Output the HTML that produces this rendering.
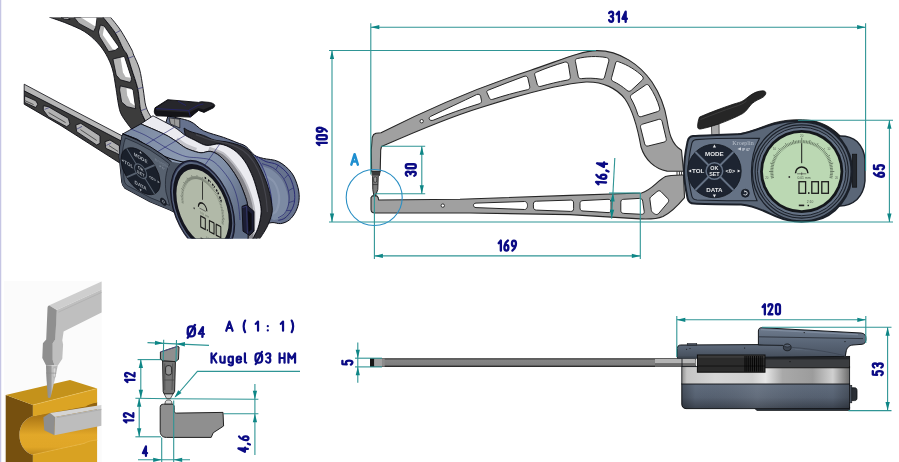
<!DOCTYPE html>
<html><head><meta charset="utf-8"><title>Caliper gauge drawing</title>
<style>
html,body{margin:0;padding:0;background:#fff;}
body{width:899px;height:462px;overflow:hidden;font-family:"Liberation Sans",sans-serif;}
svg{display:block;}
</style></head><body>
<div style="width:899px;height:462px;will-change:transform;transform:translateZ(0)"><svg width="899" height="462" viewBox="0 0 899 462">
<rect x="0" y="0" width="1.25" height="462" fill="#c6c6e4"/>
<g id="front-arms" stroke-linejoin="round">
<path d="M372.2,137.5 L373.6,134.6 L376,133.2 L381,132.8 C420,113 470,90 530,70.5 C560,60.5 580,51 597,50.6 C620,50.5 640,65 652,82 C662,97 665,108 667,120 C669,132 671,144 681.5,150.3 L683.5,171.2 L667,171.1 C655,169 645,160 641,147 C638,130 634,112 625,99 C617,88.5 603,81.5 586,82 C560,84 520,95 481,107.5 C450,117 410,134 381.5,146.6 L380.7,150 L380.2,171.6 L371.6,171.6 L371.3,150 Z" fill="#a0a0a0" stroke="#262626" stroke-width="1.1"/>
<g>
<path d="M430.6,116.4 C446,109 462,101.6 476.6,94.6 C478.6,93.8 480,94.4 480.6,96.2 L481.4,100.2 C481.8,102 481,103.2 479.2,103.8 C463,108.8 448,114 433.8,120 C431.4,121 429.6,120.4 429.2,118.8 C429,117.8 429.6,116.9 430.6,116.4 Z" fill="#fff" stroke="#262626" stroke-width="1"/>
<path d="M488.2,90.2 C500,85.4 512,80.8 524,76.4 C526,75.7 527.4,76.4 527.9,78.3 L529.7,86.2 C530.1,88 529.3,89.2 527.5,89.7 C515,92.6 503,95.9 492.8,99.3 C491,99.9 489.7,99.2 489.1,97.4 L487,92.8 C486.4,91.4 486.9,90.7 488.2,90.2 Z" fill="#fff" stroke="#262626" stroke-width="1"/>
<path d="M536.2,72.3 C545,68.5 555,65 564.5,62.2 C566.5,61.6 568,62.4 568.4,64.4 L570.3,76.4 C570.6,78.4 569.8,79.6 567.8,80 C558,81.8 549,84 541,86.3 C539,86.9 537.7,86 537.2,84.2 L534.8,75.2 C534.3,73.6 534.8,72.9 536.2,72.3 Z" fill="#fff" stroke="#262626" stroke-width="1"/>
<path d="M577.2,58.6 C586,56.4 597,55.8 606.5,57.6 C608.5,58 609.2,59.4 608.8,61.2 L604.6,77 C604.1,78.8 602.8,79.6 601,79.2 C594,78 587.5,78 581.5,78.6 C579.7,78.8 578.5,78 578.2,76.2 L575.4,61.4 C575.1,59.8 575.7,59 577.2,58.6 Z" fill="#fff" stroke="#262626" stroke-width="1"/>
<path d="M618.2,61.6 C628,65 636.5,70.5 642.2,76 C643.6,77.4 643.6,78.8 642.2,80.2 L631.2,90.4 C629.8,91.6 628.4,91.6 627,90.4 C622.5,86.5 618,83.6 613.2,81.4 C611.6,80.6 611,79.4 611.6,77.6 L615.6,63 C616.1,61.4 616.9,61.1 618.2,61.6 Z" fill="#fff" stroke="#262626" stroke-width="1"/>
<path d="M649.2,86 C654,93 657.5,100.5 659.6,108 C660.1,109.8 659.4,111 657.6,111.6 L641.4,116.6 C639.6,117.1 638.4,116.4 637.8,114.6 C636,108.5 633.6,103 631,98.6 C630,96.9 630.3,95.6 631.8,94.4 L645.6,85 C647.1,84 648.3,84.6 649.2,86 Z" fill="#fff" stroke="#262626" stroke-width="1"/>
<path d="M658.6,119.4 C660.4,118.9 661.6,119.6 662.1,121.4 L666.2,138.6 C666.6,140.4 665.9,141.6 664.1,142.1 L648.2,146 C646.4,146.4 645.2,145.7 644.7,143.9 L640.6,127.6 C640.2,125.8 640.9,124.6 642.7,124.1 Z" fill="#fff" stroke="#262626" stroke-width="1"/>
</g>
<circle cx="421.7" cy="121.2" r="1.7" fill="#fff" stroke="#262626" stroke-width="0.9"/>
<path d="M371.9,171.6 L380,171.6 L379.4,175.6 L378.2,176.2 L377.8,189.6 L375.6,195.4 L373.8,195.4 L372.8,189.6 L372.6,176.2 L372.2,175.6 Z" fill="#7c7c7c" stroke="#262626" stroke-width="1"/>
<path d="M372,171.8 L380,171.8 L379.4,175.4 L372.4,175.4 Z" fill="#3a3a3a"/>
<rect x="373.7" y="176.8" width="3" height="5.6" rx="1.4" fill="#9a9a9a" stroke="#262626" stroke-width="0.7"/>
<path d="M372.8,184.6 L377.8,184.6" stroke="#262626" stroke-width="0.7"/>
<path d="M371,197.6 L372.4,195.9 L376.8,195.9 L378.2,197.6 L378.6,200 L460,199.2 L570,195.4 L641.5,193 C652,190 657,181 665.5,176.6 C670,174.8 676,175 683.5,175 L684.5,197.6 C680,203 672,212 663,216.5 C656,219.4 648,219.3 640,218.9 L570,214.6 L470,213 L375,213 C372,213 371,211.6 371,209.5 Z" fill="#a0a0a0" stroke="#262626" stroke-width="1.1"/>
<circle cx="442.8" cy="205.6" r="1.7" fill="#fff" stroke="#262626" stroke-width="0.9"/>
<path d="M476,203.1 L524.5,201.5 C528.5,201.4 528.5,209.6 524.5,209.5 L476,207.6 C472.6,207.4 472.6,203.2 476,203.1 Z" fill="#fff" stroke="#262626" stroke-width="1"/>
<path d="M536.5,201.2 L570.5,200.1 C572.6,200 573.6,201 573.6,203 L573.6,208.6 C573.6,210.6 572.6,211.5 570.5,211.4 L536.5,210.1 C534.4,210 533.4,209 533.4,207 L533.4,204.2 C533.4,202.2 534.4,201.3 536.5,201.2 Z" fill="#fff" stroke="#262626" stroke-width="1"/>
<path d="M583,200.6 L608,199.3 C610,199.2 611,200.2 611,202.2 L611,209.8 C611,211.8 610,212.7 608,212.6 L583,211 C581,210.9 580,209.9 580,207.9 L580,203.6 C580,201.6 581,200.7 583,200.6 Z" fill="#fff" stroke="#262626" stroke-width="1"/>
<path d="M623.8,199.3 L639.4,198.4 C641.4,198.3 642.4,199.2 642.7,201.2 L644.2,211.4 C644.5,213.4 643.5,214.4 641.5,214.3 L623.8,213.4 C621.8,213.3 620.8,212.3 620.8,210.3 L620.8,202.2 C620.8,200.2 621.8,199.4 623.8,199.3 Z" fill="#fff" stroke="#262626" stroke-width="1"/>
<path d="M650.6,197 L657,191.6 C658.5,190.4 659.8,190.4 661.2,191.8 L667.6,198.4 C669,199.8 669,201.2 667.8,202.7 L658.8,213.3 C657.5,214.7 656.2,214.9 654.6,213.9 L653.6,213.2 C652,212.2 651.4,211.2 651.2,209.4 L649.9,199.4 C649.7,198.2 649.9,197.6 650.6,197 Z" fill="#fff" stroke="#262626" stroke-width="1"/>
<path d="M677,171.4 L677,175 M679.4,171.4 L679.4,175 M681.6,171.4 L681.6,175" stroke="#262626" stroke-width="0.9"/>
</g>
<g id="device">
<polygon points="711.4,125.6 719,123.6 719.2,135.5 711.8,135.8" fill="#a8a8a8" stroke="#333" stroke-width="0.8"/>
<path d="M699.6,117 C710,112.5 722,108 733,104.3 C738,102.8 741,102.2 744,100.2 C748,97.2 751,94.4 755,92.6 C758,91.4 761,90.6 763.8,90.9 C765.6,91.2 766.2,92.6 765.6,94.2 C764.6,96.4 762.6,97.6 760,98.8 C756,100.6 753,102.4 750.6,105 C748,108.2 746,111.6 742.6,113.6 C735,117.6 727,121 718.6,124 C712,126.2 706,128 700.6,129 C698.6,129.3 697.6,128.4 697.6,126.6 C697.7,123 698.4,119.6 699.6,117 Z" fill="#262626" stroke="#111" stroke-width="0.8"/>
<path d="M700.5,119.5 C712,115 724,110.2 735,106.6 C740,105 743.5,103.6 746.5,101" fill="none" stroke="#3d3d3d" stroke-width="0.9"/>
<path d="M838,136 C845,135.6 852,137 857,141.5 C862,146.5 864.6,153 865,160 L865,181 C864.4,188 862,194.5 857,199.5 C852,204 845,206.4 838,206 Z" fill="#5a6677" stroke="#1b2029" stroke-width="1.4"/>
<rect x="852.4" y="154.2" width="4.3" height="33" fill="#22262c" stroke="#111" stroke-width="0.7"/>
<path d="M848.6,153.5 L848.6,188.5" stroke="#4a5565" stroke-width="1"/>
<path d="M738,134.2 C752,131.6 762,126.4 774,122.8 C786,119.6 800,118.8 812,120.6 C822,122.4 832,127.4 840,135.6 L837,138.6 C827,128.6 813,123 800,123.2 C786,123.4 772,128 760,135.4 Z" fill="#1a1c20" stroke="#111" stroke-width="0.8"/>
<path d="M693,136 C705,135.2 725,134.6 741,134 C752,132 762,127.6 773,124.4 C786,121 802,120.4 814,122.6 C836,127.6 852,148 852.2,171.5 C852,195 836,216.4 814,220.6 C802,222.6 788,221.6 776,216.4 C766,212 756,206 741,204.6 C725,204.4 705,204.2 694,203.6 C690.4,203.4 688.4,201.8 687.6,198.4 C685.6,189 684,180 684,171 C684,162 685.6,151 687.6,141.4 C688.4,138 690,136.2 693,136 Z" fill="#5a6677" stroke="#1b2029" stroke-width="2"/>
<path d="M696,139.6 C712,138.4 740,138 759.4,138.4 C754,148 751.4,160 751.4,171.5 C751.4,183 753,192 757,200.6 C735,200.8 712,200.6 697,200 C694,199.8 692.4,198.6 691.8,196 C690,188 688.2,179 688.2,171 C688.2,162 690,151 691.8,143.4 C692.4,141 693.6,139.8 696,139.6 Z" fill="#657285" stroke="#1b2029" stroke-width="1.1"/>
<circle cx="801.7" cy="171.5" r="49.4" fill="#5a6677" stroke="#1b2029" stroke-width="1.3"/>
<circle cx="801.7" cy="171.5" r="46.6" fill="none" stroke="#1b2029" stroke-width="1.1"/>
<circle cx="801.7" cy="171.5" r="44.2" fill="#657285" stroke="#1b2029" stroke-width="1"/>
<circle cx="801.7" cy="171.5" r="41.6" fill="#14171b"/>
<circle cx="801.7" cy="171.5" r="38.8" fill="#bbd8b3"/>
<path d="M773.92,177.40L770.99,178.03M773.65,175.94L770.69,176.41M773.46,174.47L770.47,174.78M773.34,172.99L770.34,173.14M773.30,171.50L769.10,171.50M773.34,170.01L770.34,169.86M773.46,168.53L770.47,168.22M773.65,167.06L770.69,166.59M773.92,165.60L770.99,164.97M774.27,164.15L770.21,163.06M774.69,162.72L771.84,161.80M775.19,161.32L772.39,160.25M775.76,159.95L773.01,158.73M776.40,158.61L773.72,157.24M777.10,157.30L773.47,155.20M777.88,156.03L775.37,154.40M778.72,154.81L776.30,153.04M779.63,153.63L777.30,151.74M780.59,152.50L778.37,150.49M781.62,151.42L778.65,148.45M782.70,150.39L780.69,148.17M783.83,149.43L781.94,147.10M785.01,148.52L783.24,146.10M786.23,147.68L784.60,145.17M787.50,146.90L785.40,143.27M788.81,146.20L787.44,143.52M790.15,145.56L788.93,142.81M791.52,144.99L790.45,142.19M792.92,144.49L792.00,141.64M794.35,144.07L793.26,140.01M795.80,143.72L795.17,140.79M797.26,143.45L796.79,140.49M798.73,143.26L798.42,140.27M800.21,143.14L800.06,140.14M801.70,143.90L801.70,137.70M803.19,143.14L803.34,140.14M804.67,143.26L804.98,140.27M806.14,143.45L806.61,140.49M807.60,143.72L808.23,140.79M809.05,144.07L810.14,140.01M810.48,144.49L811.40,141.64M811.88,144.99L812.95,142.19M813.25,145.56L814.47,142.81M814.59,146.20L815.96,143.52M815.90,146.90L818.00,143.27M817.17,147.68L818.80,145.17M818.39,148.52L820.16,146.10M819.57,149.43L821.46,147.10M820.70,150.39L822.71,148.17M821.78,151.42L824.75,148.45M822.81,152.50L825.03,150.49M823.77,153.63L826.10,151.74M824.68,154.81L827.10,153.04M825.52,156.03L828.03,154.40M826.30,157.30L829.93,155.20M827.00,158.61L829.68,157.24M827.64,159.95L830.39,158.73M828.21,161.32L831.01,160.25M828.71,162.72L831.56,161.80M829.13,164.15L833.19,163.06M829.48,165.60L832.41,164.97M829.75,167.06L832.71,166.59M829.94,168.53L832.93,168.22M830.06,170.01L833.06,169.86M830.10,171.50L834.30,171.50M830.06,172.99L833.06,173.14M829.94,174.47L832.93,174.78M829.75,175.94L832.71,176.41M829.48,177.40L832.41,178.03" stroke="#354135" stroke-width="0.6" fill="none"/>
<text x="766.8" y="178.8" font-size="2.9" text-anchor="middle" font-family="Liberation Sans, sans-serif" fill="#5a665a">20</text>
<text x="774.6" y="149.9" font-size="2.9" text-anchor="middle" font-family="Liberation Sans, sans-serif" fill="#5a665a">10</text>
<text x="801.7" y="137.3" font-size="2.9" text-anchor="middle" font-family="Liberation Sans, sans-serif" fill="#5a665a">20</text>
<text x="828.8" y="149.9" font-size="2.9" text-anchor="middle" font-family="Liberation Sans, sans-serif" fill="#5a665a">10</text>
<text x="836.6" y="178.8" font-size="2.9" text-anchor="middle" font-family="Liberation Sans, sans-serif" fill="#5a665a">20</text>
<line x1="801.7" y1="143.4" x2="801.7" y2="163.2" stroke="#1a1a1a" stroke-width="1"/>
<path d="M795.5,173.2 A6.2,6.2 0 0 1 807.9000000000001,173.2" fill="none" stroke="#1a1a1a" stroke-width="1.5"/>
<path d="M797.1,173.8 L806.3000000000001,173.8 M801.7,172.4 L801.7,175.2" stroke="#333" stroke-width="0.6"/>
<circle cx="789.3" cy="177" r="0.9" fill="#333"/>
<text x="797.4" y="179" font-size="3.4" font-family="Liberation Sans, sans-serif" fill="#4a564a">0.01 mm</text>
<rect x="799" y="181.7" width="6.6" height="11.6" fill="none" stroke="#1c1c1c" stroke-width="1.3"/>
<rect x="811.8" y="181.7" width="6.6" height="11.6" fill="none" stroke="#1c1c1c" stroke-width="1.3"/>
<rect x="821.8" y="181.7" width="6.6" height="11.6" fill="none" stroke="#1c1c1c" stroke-width="1.3"/>
<rect x="808" y="192.2" width="1.5" height="1.7" fill="#1c1c1c"/>
<text x="806.8" y="202.6" font-size="3.3" font-family="Liberation Sans, sans-serif" fill="#4a564a">2:10</text>
<rect x="798.8" y="204.6" width="5.4" height="1.6" fill="#222"/><rect x="807.6" y="204.8" width="1.4" height="1.4" fill="#222"/>
<circle cx="714.4" cy="171" r="26.8" fill="#1d2431" stroke="#12161d" stroke-width="0.8"/>
<path d="M695.4,152.0L733.4,190.0M695.4,190.0L733.4,152.0" stroke="#657285" stroke-width="1.8"/>
<circle cx="714.4" cy="171" r="8.3" fill="#1d2431" stroke="#657285" stroke-width="1.5"/>
<text x="714.4" y="155.6" font-size="6.2" font-weight="bold" text-anchor="middle" font-family="Liberation Sans, sans-serif" fill="#e6e8ea">MODE</text>
<text x="714.4" y="191.8" font-size="6.2" font-weight="bold" text-anchor="middle" font-family="Liberation Sans, sans-serif" fill="#e6e8ea">DATA</text>
<text x="698.2" y="173.4" font-size="6.2" font-weight="bold" text-anchor="middle" font-family="Liberation Sans, sans-serif" fill="#e6e8ea">TOL</text>
<text x="730.4" y="173.2" font-size="5.6" font-weight="bold" text-anchor="middle" font-family="Liberation Sans, sans-serif" fill="#e6e8ea">&lt;0&gt;</text>
<text x="714.4" y="169.6" font-size="5.4" font-weight="bold" text-anchor="middle" font-family="Liberation Sans, sans-serif" fill="#e6e8ea">OK</text>
<text x="714.4" y="175.8" font-size="5.4" font-weight="bold" text-anchor="middle" font-family="Liberation Sans, sans-serif" fill="#e6e8ea">SET</text>
<polygon points="714.4,144.6 712.8,147.6 716.0,147.6" fill="#e6e8ea"/>
<polygon points="714.4,197.6 712.8,194.6 716.0,194.6" fill="#e6e8ea"/>
<polygon points="688.4,171 691.2,169.4 691.2,172.6" fill="#e6e8ea"/>
<polygon points="740.4,171 737.6,169.4 737.6,172.6" fill="#e6e8ea"/>
<circle cx="745.3" cy="193.2" r="4" fill="#1d2431" stroke="#12161d" stroke-width="0.7"/>
<path d="M743.6,194 A1.9,1.9 0 1 0 745.3,191.3" fill="none" stroke="#e2e4e8" stroke-width="0.9"/>
<polygon points="744.2,190.2 746.2,191.4 744.4,192.6" fill="#e2e4e8"/>
<text x="743" y="145.4" font-size="6" text-anchor="middle" font-family="Liberation Serif, serif" fill="#b9c0cb">Kroeplin</text>
<text x="746" y="150.6" font-size="3.4" font-weight="bold" text-anchor="middle" font-family="Liberation Sans, sans-serif" fill="#c9cfd8">IP 67</text>
<polygon points="737.4,149 741,147.2 741,150.6" fill="#c9cfd8"/>
</g>
<g id="front-dims">
<line x1="370.8" y1="23.3" x2="370.8" y2="174.5" stroke="#2f9595" stroke-width="1.1"/>
<line x1="865.6" y1="23.3" x2="865.6" y2="170.8" stroke="#2f9595" stroke-width="1.1"/>
<line x1="370.8" y1="27.2" x2="865.6" y2="27.2" stroke="#2f9595" stroke-width="1.1"/>
<polygon points="370.8,27.2 379.3,25.1 379.3,29.3" fill="#0e8686"/>
<polygon points="865.6,27.2 857.1,29.3 857.1,25.1" fill="#0e8686"/>
<g transform="translate(618,16.7) scale(1.0000,-1.0) translate(0,-5)" fill="none" stroke="#0b0b85" stroke-width="2.35" stroke-linecap="round" stroke-linejoin="round"><path transform="translate(-8.85,0)" d="M0,8.6 C0.4,9.5 1.1,10 2,10 C3.2,10 4,9.2 4,7.8 C4,6.4 3.2,5.4 1.6,5.4 C3.2,5.4 4,4.3 4,2.7 C4,1 3.2,0 2,0 C1.1,0 0.4,0.5 0,1.5"/><path transform="translate(-1.30,0)" d="M0,7.4 L2.2,10 L2.2,0"/><path transform="translate(4.45,0)" d="M3.2,0 L3.2,10 L0,3 L4.4,3"/></g>
<line x1="329" y1="50.5" x2="596" y2="50.5" stroke="#2f9595" stroke-width="1.1"/>
<line x1="329" y1="222" x2="893" y2="222" stroke="#2f9595" stroke-width="1.1"/>
<line x1="332" y1="50.5" x2="332" y2="222" stroke="#2f9595" stroke-width="1.1"/>
<polygon points="332.0,50.5 334.1,59.0 329.9,59.0" fill="#0e8686"/>
<polygon points="332.0,222.0 329.9,213.5 334.1,213.5" fill="#0e8686"/>
<g transform="translate(321.8,136.4) rotate(-90) scale(1.0000,-1.0) translate(0,-5)" fill="none" stroke="#0b0b85" stroke-width="2.35" stroke-linecap="round" stroke-linejoin="round"><path transform="translate(-8.65,0)" d="M0,7.4 L2.2,10 L2.2,0"/><path transform="translate(-2.90,0)" d="M0,2 L0,8 C0,9.3 0.8,10 2,10 C3.2,10 4,9.3 4,8 L4,2 C4,0.7 3.2,0 2,0 C0.8,0 0,0.7 0,2 Z"/><path transform="translate(4.65,0)" d="M 0.50,0.00 C 1.80,0.80 3.10,2.80 3.70,5.00 C 3.90,5.80 4.00,6.50 4.00,7.20 C 4.00,9.00 3.20,10.00 2.00,10.00 C 0.80,10.00 0.00,9.00 0.00,7.10 C 0.00,5.30 0.80,4.30 2.00,4.30 C 2.80,4.30 3.40,4.70 3.80,5.50"/></g>
<line x1="381" y1="146.3" x2="425.2" y2="146.3" stroke="#2f9595" stroke-width="1.1"/>
<line x1="375" y1="193.7" x2="425.2" y2="193.7" stroke="#2f9595" stroke-width="1.1"/>
<line x1="421.8" y1="146.3" x2="421.8" y2="193.7" stroke="#2f9595" stroke-width="1.1"/>
<polygon points="421.8,146.3 423.9,154.8 419.7,154.8" fill="#0e8686"/>
<polygon points="421.8,193.7 419.7,185.2 423.9,185.2" fill="#0e8686"/>
<g transform="translate(410.8,170) rotate(-90) scale(1.0000,-1.0) translate(0,-5)" fill="none" stroke="#0b0b85" stroke-width="2.35" stroke-linecap="round" stroke-linejoin="round"><path transform="translate(-5.78,0)" d="M0,8.6 C0.4,9.5 1.1,10 2,10 C3.2,10 4,9.2 4,7.8 C4,6.4 3.2,5.4 1.6,5.4 C3.2,5.4 4,4.3 4,2.7 C4,1 3.2,0 2,0 C1.1,0 0.4,0.5 0,1.5"/><path transform="translate(1.77,0)" d="M0,2 L0,8 C0,9.3 0.8,10 2,10 C3.2,10 4,9.3 4,8 L4,2 C4,0.7 3.2,0 2,0 C0.8,0 0,0.7 0,2 Z"/></g>
<line x1="374.4" y1="194" x2="374.4" y2="259" stroke="#2f9595" stroke-width="1.1"/>
<line x1="640.3" y1="193" x2="640.3" y2="259" stroke="#2f9595" stroke-width="1.1"/>
<line x1="374.4" y1="255.9" x2="640.3" y2="255.9" stroke="#2f9595" stroke-width="1.1"/>
<polygon points="374.4,255.9 382.9,253.8 382.9,258.1" fill="#0e8686"/>
<polygon points="640.3,255.9 631.8,258.1 631.8,253.8" fill="#0e8686"/>
<g transform="translate(507.3,245.6) scale(1.0000,-1.0) translate(0,-5)" fill="none" stroke="#0b0b85" stroke-width="2.35" stroke-linecap="round" stroke-linejoin="round"><path transform="translate(-8.65,0)" d="M0,7.4 L2.2,10 L2.2,0"/><path transform="translate(-2.90,0)" d="M3.5,10 C2.2,9.2 0.9,7.2 0.3,5 C0.1,4.2 0,3.5 0,2.8 C0,1 0.8,0 2,0 C3.2,0 4,1 4,2.9 C4,4.7 3.2,5.7 2,5.7 C1.2,5.7 0.6,5.3 0.2,4.5"/><path transform="translate(4.65,0)" d="M 0.50,0.00 C 1.80,0.80 3.10,2.80 3.70,5.00 C 3.90,5.80 4.00,6.50 4.00,7.20 C 4.00,9.00 3.20,10.00 2.00,10.00 C 0.80,10.00 0.00,9.00 0.00,7.10 C 0.00,5.30 0.80,4.30 2.00,4.30 C 2.80,4.30 3.40,4.70 3.80,5.50"/></g>
<line x1="609" y1="193" x2="640.3" y2="193" stroke="#2f9595" stroke-width="1.1"/>
<line x1="614.8" y1="158" x2="611.6" y2="218.6" stroke="#2f9595" stroke-width="1.1"/>
<polygon points="613.0,193.0 614.7,201.6 610.4,201.4" fill="#0e8686"/>
<polygon points="611.6,218.2 609.9,209.6 614.2,209.8" fill="#0e8686"/>
<g transform="translate(601.5,173.4) rotate(-87) scale(1.0000,-1.0) translate(0,-5)" fill="none" stroke="#0b0b85" stroke-width="2.35" stroke-linecap="round" stroke-linejoin="round"><path transform="translate(-11.02,0)" d="M0,7.4 L2.2,10 L2.2,0"/><path transform="translate(-5.27,0)" d="M3.5,10 C2.2,9.2 0.9,7.2 0.3,5 C0.1,4.2 0,3.5 0,2.8 C0,1 0.8,0 2,0 C3.2,0 4,1 4,2.9 C4,4.7 3.2,5.7 2,5.7 C1.2,5.7 0.6,5.3 0.2,4.5"/><path transform="translate(2.28,0)" d="M0.8,0.3 L0,-1.9"/><path transform="translate(6.62,0)" d="M3.2,0 L3.2,10 L0,3 L4.4,3"/></g>
<line x1="798" y1="120.2" x2="893" y2="120.2" stroke="#2f9595" stroke-width="1.1"/>
<line x1="889.4" y1="120.2" x2="889.4" y2="222" stroke="#2f9595" stroke-width="1.1"/>
<polygon points="889.4,120.2 891.5,128.7 887.2,128.7" fill="#0e8686"/>
<polygon points="889.4,222.0 887.2,213.5 891.5,213.5" fill="#0e8686"/>
<g transform="translate(879,171) rotate(-90) scale(1.0000,-1.0) translate(0,-5)" fill="none" stroke="#0b0b85" stroke-width="2.35" stroke-linecap="round" stroke-linejoin="round"><path transform="translate(-5.78,0)" d="M3.5,10 C2.2,9.2 0.9,7.2 0.3,5 C0.1,4.2 0,3.5 0,2.8 C0,1 0.8,0 2,0 C3.2,0 4,1 4,2.9 C4,4.7 3.2,5.7 2,5.7 C1.2,5.7 0.6,5.3 0.2,4.5"/><path transform="translate(1.77,0)" d="M3.8,10 L0.5,10 L0.2,5.7 C0.7,6.2 1.3,6.5 2.1,6.5 C3.3,6.5 4,5.3 4,3.3 C4,1.2 3.2,0 2,0 C1.1,0 0.4,0.5 0,1.5"/></g>
<circle cx="374.2" cy="197.5" r="28" fill="none" stroke="#2a8fc4" stroke-width="1.1"/>
<g transform="translate(354.6,159.4) scale(1.0500,-1.05) translate(0,-5)" fill="none" stroke="#1f8fd0" stroke-width="2.35" stroke-linecap="round" stroke-linejoin="round"><path transform="translate(-3.10,0)" d="M0,0 L3.1,10 L6.2,0 M1,3 L5.2,3"/></g>
</g>
<defs>
<linearGradient id="gSilver" x1="0" x2="1" y1="0" y2="0"><stop offset="0" stop-color="#8f8f8f"/><stop offset="0.03" stop-color="#c4c4c4"/><stop offset="0.2" stop-color="#d6d6d6"/><stop offset="0.42" stop-color="#cfcfcf"/><stop offset="0.5" stop-color="#e6e6e6"/><stop offset="0.6" stop-color="#a9a9a9"/><stop offset="0.78" stop-color="#9c9c9c"/><stop offset="0.9" stop-color="#d0d0d0"/><stop offset="0.97" stop-color="#8a8a8a"/><stop offset="1" stop-color="#6a6a6a"/></linearGradient>
<linearGradient id="gLower" x1="0" x2="0" y1="0" y2="1"><stop offset="0" stop-color="#616d7e"/><stop offset="0.55" stop-color="#566171"/><stop offset="1" stop-color="#3a424e"/></linearGradient>
<linearGradient id="gLowerH" x1="0" x2="1" y1="0" y2="0"><stop offset="0" stop-color="#000" stop-opacity="0.25"/><stop offset="0.08" stop-color="#000" stop-opacity="0"/><stop offset="0.45" stop-color="#fff" stop-opacity="0.08"/><stop offset="0.9" stop-color="#000" stop-opacity="0"/><stop offset="1" stop-color="#000" stop-opacity="0.22"/></linearGradient>
<linearGradient id="gUpper" x1="0" x2="0" y1="0" y2="1"><stop offset="0" stop-color="#5e6a7b"/><stop offset="1" stop-color="#444d5a"/></linearGradient>
<linearGradient id="gCap" x1="0" x2="0" y1="0" y2="1"><stop offset="0" stop-color="#6f7c8e"/><stop offset="0.5" stop-color="#5a6677"/><stop offset="1" stop-color="#4a5463"/></linearGradient>
<linearGradient id="gBar" x1="0" x2="0" y1="0" y2="1"><stop offset="0" stop-color="#2e2e2e"/><stop offset="0.13" stop-color="#555"/><stop offset="0.2" stop-color="#858585"/><stop offset="0.78" stop-color="#7e7e7e"/><stop offset="0.87" stop-color="#444"/><stop offset="1" stop-color="#1c1c1c"/></linearGradient>
</defs>
<g id="side">
<rect x="370" y="358.2" width="326" height="8.8" fill="url(#gBar)"/>
<rect x="370" y="358.2" width="4.2" height="8.8" fill="#161616"/>
<rect x="374.2" y="358.6" width="8" height="8" fill="#a2a2a2"/>
<rect x="382.2" y="358.6" width="2.5" height="8" fill="#8c8c8c"/>
<rect x="655" y="359" width="40" height="4.2" fill="#b4b4b4"/>
<rect x="655" y="363.2" width="40" height="3.6" fill="#6c6c6c"/>
<path d="M753,407 L849.6,407 L849.6,410.4 L757,410.4 Z" fill="#2f353e" stroke="#14171b" stroke-width="0.8"/>
<path d="M681.8,383.6 L849.6,383.6 L849.6,408.6 L686,408.6 C683,408.4 681.8,406.6 681.8,404 Z" fill="url(#gLower)" stroke="#14171b" stroke-width="1"/>
<path d="M681.8,383.6 L849.6,383.6 L849.6,408.6 L686,408.6 C683,408.4 681.8,406.6 681.8,404 Z" fill="url(#gLowerH)"/>
<rect x="681.8" y="366.6" width="167.8" height="17.4" fill="url(#gSilver)" stroke="#14171b" stroke-width="0.9"/>
<rect x="764" y="356.4" width="85.6" height="11.4" fill="#3b3d40" stroke="#111" stroke-width="0.9"/>
<rect x="764" y="356.4" width="85.6" height="3" fill="#222427"/>
<path d="M677.4,348.4 C677.4,346.2 678.6,345 680.8,345 L760,344.6 L846,345.2 L845.4,356.4 L677.4,358 Z" fill="url(#gUpper)" stroke="#14171b" stroke-width="1"/>
<path d="M677.4,358 L682,358 L682,367" fill="none" stroke="#14171b" stroke-width="0.9"/>
<rect x="677.6" y="356.6" width="20" height="2" fill="#3c444f"/>
<rect x="687.2" y="343.5" width="9.6" height="1.6" fill="#4a5361" stroke="#14171b" stroke-width="0.5"/>
<path d="M795,349 C812,350 830,352.4 845,355.6" fill="none" stroke="#6b7889" stroke-width="1.2" opacity="0.6"/>
<path d="M758.4,344.6 L758.4,331 C758.4,328.8 759.6,327.6 761.8,327.7 L861,333 C864.4,333.4 866,335 866,338.6 C866,342 864.8,344 862,344.3 L853,345 C848.6,345.4 846.8,348 846,352 L845.4,356.2 L820,352.6 C800,349 780,346.4 764,345 Z" fill="url(#gCap)"/>
<path d="M758.4,345 L758.4,331 C758.4,328.8 759.6,327.6 761.8,327.7 L861,333 C864.4,333.4 866,335 866,338.6 C866,342 864.8,344 862,344.3 L853,345 C848.6,345.4 846.8,348 846,352 L845.4,356.2" fill="none" stroke="#14171b" stroke-width="1"/>
<path d="M758.8,336.8 L863,338.6" fill="none" stroke="#2b313a" stroke-width="0.9"/>
<path d="M761,329.6 L858,334.6" fill="none" stroke="#8996a8" stroke-width="1.1" opacity="0.7"/>
<path d="M758.4,345 L783,345.4" fill="none" stroke="#14171b" stroke-width="0.9"/>
<path d="M792,347.4 C810,348.6 830,352 845.6,356" fill="none" stroke="#39414d" stroke-width="0.8" opacity="0.8"/>
<circle cx="804.2" cy="332.6" r="0.6" fill="#111"/><circle cx="845" cy="341.6" r="0.6" fill="#111"/><circle cx="790" cy="361.6" r="0.6" fill="#111"/><circle cx="686.6" cy="349.2" r="0.5" fill="#111"/><circle cx="744.6" cy="348" r="0.6" fill="#111"/><circle cx="690" cy="348.4" r="0.5" fill="#111"/>
<path d="M783.4,347.4 C783.4,345.4 784.6,344 787.2,344 C789.8,344 791.2,345.4 791.2,347.4 C791.2,349.6 789.6,350.8 787.2,350.8 C784.8,350.8 783.4,349.6 783.4,347.4 Z" fill="#3c4450" stroke="#14171b" stroke-width="0.8"/>
<ellipse cx="787.3" cy="345.6" rx="3.2" ry="1.4" fill="#566171" stroke="#14171b" stroke-width="0.5"/>
<rect x="697.4" y="355" width="67.6" height="17.2" fill="#2b2b2b" stroke="#0c0c0c" stroke-width="1"/>
<line x1="697.4" y1="366" x2="765" y2="366" stroke="#0c0c0c" stroke-width="0.8"/>
<rect x="697.9" y="355.6" width="66.6" height="2.2" fill="#3b3b3b"/>
<path d="M745.0,356 L745.0,371.6M746.9,356 L746.9,371.6M748.8,356 L748.8,371.6M750.7,356 L750.7,371.6M752.6,356 L752.6,371.6M754.5,356 L754.5,371.6M756.4,356 L756.4,371.6M758.3,356 L758.3,371.6M760.2,356 L760.2,371.6M762.1,356 L762.1,371.6" stroke="#000" stroke-width="0.9"/>
<path d="M849.8,387.8 L854.6,387.8 C856.4,387.8 857,389 857,390.6 L857,397.8 C857,399.6 856.4,400.6 854.6,400.6 L849.8,400.6 Z" fill="#2a2e35" stroke="#0e1013" stroke-width="0.8"/>
<rect x="849.6" y="385.4" width="2.2" height="17.4" fill="#48505c" stroke="#14171b" stroke-width="0.6"/>
<line x1="676.8" y1="316" x2="676.8" y2="357" stroke="#2f9595" stroke-width="1.1"/>
<line x1="865.8" y1="316" x2="865.8" y2="343" stroke="#2f9595" stroke-width="1.1"/>
<line x1="676.8" y1="319.8" x2="865.8" y2="319.8" stroke="#2f9595" stroke-width="1.1"/>
<polygon points="676.8,319.8 685.3,317.7 685.3,321.9" fill="#0e8686"/>
<polygon points="865.8,319.8 857.3,321.9 857.3,317.7" fill="#0e8686"/>
<g transform="translate(771.3,309.3) scale(1.0000,-1.0) translate(0,-5)" fill="none" stroke="#0b0b85" stroke-width="2.35" stroke-linecap="round" stroke-linejoin="round"><path transform="translate(-8.65,0)" d="M0,7.4 L2.2,10 L2.2,0"/><path transform="translate(-2.90,0)" d="M0,8 C0,9.3 0.8,10 2,10 C3.2,10 4,9.3 4,8 C4,6.4 3,5.2 0,0 L4,0"/><path transform="translate(4.65,0)" d="M0,2 L0,8 C0,9.3 0.8,10 2,10 C3.2,10 4,9.3 4,8 L4,2 C4,0.7 3.2,0 2,0 C0.8,0 0,0.7 0,2 Z"/></g>
<line x1="762" y1="327.3" x2="891.5" y2="327.3" stroke="#2f9595" stroke-width="1.1"/>
<line x1="848.5" y1="410.6" x2="891.5" y2="410.6" stroke="#2f9595" stroke-width="1.1"/>
<line x1="887.6" y1="327.3" x2="887.6" y2="410.6" stroke="#2f9595" stroke-width="1.1"/>
<polygon points="887.6,327.3 889.8,335.8 885.5,335.8" fill="#0e8686"/>
<polygon points="887.6,410.6 885.5,402.1 889.8,402.1" fill="#0e8686"/>
<g transform="translate(877.8,369.3) rotate(-90) scale(1.0000,-1.0) translate(0,-5)" fill="none" stroke="#0b0b85" stroke-width="2.35" stroke-linecap="round" stroke-linejoin="round"><path transform="translate(-5.78,0)" d="M3.8,10 L0.5,10 L0.2,5.7 C0.7,6.2 1.3,6.5 2.1,6.5 C3.3,6.5 4,5.3 4,3.3 C4,1.2 3.2,0 2,0 C1.1,0 0.4,0.5 0,1.5"/><path transform="translate(1.77,0)" d="M0,8.6 C0.4,9.5 1.1,10 2,10 C3.2,10 4,9.2 4,7.8 C4,6.4 3.2,5.4 1.6,5.4 C3.2,5.4 4,4.3 4,2.7 C4,1 3.2,0 2,0 C1.1,0 0.4,0.5 0,1.5"/></g>
<line x1="355" y1="358.2" x2="382" y2="358.2" stroke="#2f9595" stroke-width="1.1"/>
<line x1="355" y1="366.9" x2="382" y2="366.9" stroke="#2f9595" stroke-width="1.1"/>
<line x1="357.8" y1="342.6" x2="357.8" y2="382.8" stroke="#2f9595" stroke-width="1.1"/>
<polygon points="357.8,358.2 355.7,349.7 359.9,349.7" fill="#0e8686"/>
<polygon points="357.8,366.8 359.9,375.3 355.7,375.3" fill="#0e8686"/>
<g transform="translate(347.4,362.6) rotate(-90) scale(1.0000,-1.0) translate(0,-5)" fill="none" stroke="#0b0b85" stroke-width="2.35" stroke-linecap="round" stroke-linejoin="round"><path transform="translate(-2.00,0)" d="M3.8,10 L0.5,10 L0.2,5.7 C0.7,6.2 1.3,6.5 2.1,6.5 C3.3,6.5 4,5.3 4,3.3 C4,1.2 3.2,0 2,0 C1.1,0 0.4,0.5 0,1.5"/></g>
</g>
<g id="detail">
<line x1="147.5" y1="342.6" x2="209" y2="345.4" stroke="#2f9595" stroke-width="1.1"/>
<polygon points="163.5,343.3 154.9,345.1 155.1,340.8" fill="#0e8686"/>
<polygon points="176.4,343.9 185.0,342.1 184.8,346.4" fill="#0e8686"/>
<g transform="translate(195.9,331.6) rotate(3) scale(1.1500,-1.0) translate(0,-5)" fill="none" stroke="#0b0b85" stroke-width="2.1" stroke-linecap="round" stroke-linejoin="round"><path transform="translate(-7.07,0)" d="M0,3 L0,7 C0,8.9 1.3,10 3.1,10 C4.9,10 6.2,8.9 6.2,7 L6.2,3 C6.2,1.1 4.9,0 3.1,0 C1.3,0 0,1.1 0,3 Z M0.2,-1.7 L6,11.7"/><path transform="translate(2.68,0)" d="M3.2,0 L3.2,10 L0,3 L4.4,3"/></g>
<g transform="translate(229.4,326.15) scale(1.0340,-0.94) translate(0,-5)" fill="none" stroke="#0b0b85" stroke-width="2.15" stroke-linecap="round" stroke-linejoin="round"><path transform="translate(-3.10,0)" d="M0,0 L3.1,10 L6.2,0 M1,3 L5.2,3"/></g>
<g transform="translate(244.3,326.15) scale(1.0340,-0.94) translate(0,-5)" fill="none" stroke="#0b0b85" stroke-width="2.15" stroke-linecap="round" stroke-linejoin="round"><path transform="translate(-0.80,0)" d="M1.6,11 C-0.3,7.5 -0.3,2 1.6,-1.4"/></g>
<g transform="translate(256.9,326.15) scale(1.0340,-0.94) translate(0,-5)" fill="none" stroke="#0b0b85" stroke-width="2.15" stroke-linecap="round" stroke-linejoin="round"><path transform="translate(-1.10,0)" d="M0,7.4 L2.2,10 L2.2,0"/></g>
<g transform="translate(267.8,326.15) scale(1.0340,-0.94) translate(0,-5)" fill="none" stroke="#0b0b85" stroke-width="2.15" stroke-linecap="round" stroke-linejoin="round"><path transform="translate(-0.10,0)" d="M0.1,0.5 L0.1,0.7 M0.1,5.0 L0.1,5.2"/></g>
<g transform="translate(281.9,326.15) scale(1.0340,-0.94) translate(0,-5)" fill="none" stroke="#0b0b85" stroke-width="2.15" stroke-linecap="round" stroke-linejoin="round"><path transform="translate(-1.10,0)" d="M0,7.4 L2.2,10 L2.2,0"/></g>
<g transform="translate(292.5,326.15) scale(1.0340,-0.94) translate(0,-5)" fill="none" stroke="#0b0b85" stroke-width="2.15" stroke-linecap="round" stroke-linejoin="round"><path transform="translate(-0.80,0)" d="M0,11 C1.9,7.5 1.9,2 0,-1.4"/></g>
<g transform="translate(253.3,358) scale(1.0695,-0.93) translate(0,-5)" fill="none" stroke="#0b0b85" stroke-width="2.1" stroke-linecap="round" stroke-linejoin="round"><path transform="translate(-39.05,0)" d="M0,0 L0,10 M4.4,10 L0,3.8 M1.5,5.9 L4.6,0"/><path transform="translate(-30.80,0)" d="M0,6.6 L0,2 C0,0.7 0.8,0 2,0 C3.2,0 4,0.7 4,2 M4,6.6 L4,0"/><path transform="translate(-23.15,0)" d="M4,6.6 L4,-1.2 C4,-2.4 3.2,-3 2,-3 C1.2,-3 0.6,-2.7 0.2,-2.2 M4,2 C4,0.7 3.2,0 2,0 C0.8,0 0,0.7 0,2 L0,4.6 C0,5.9 0.8,6.6 2,6.6 C3.2,6.6 4,5.9 4,4.6"/><path transform="translate(-15.50,0)" d="M0,3.4 L4,3.4 L4,4.6 C4,5.9 3.2,6.6 2,6.6 C0.8,6.6 0,5.9 0,4.6 L0,2 C0,0.7 0.8,0 2,0 C3,0 3.6,0.4 4,1.2"/><path transform="translate(-7.85,0)" d="M0,10 L0,1.2 C0,0.4 0.5,0 1.2,0"/><path transform="translate(2.05,0)" d="M0,3 L0,7 C0,8.9 1.3,10 3.1,10 C4.9,10 6.2,8.9 6.2,7 L6.2,3 C6.2,1.1 4.9,0 3.1,0 C1.3,0 0,1.1 0,3 Z M0.2,-1.7 L6,11.7"/><path transform="translate(11.90,0)" d="M0,8.6 C0.4,9.5 1.1,10 2,10 C3.2,10 4,9.2 4,7.8 C4,6.4 3.2,5.4 1.6,5.4 C3.2,5.4 4,4.3 4,2.7 C4,1 3.2,0 2,0 C1.1,0 0.4,0.5 0,1.5"/><path transform="translate(24.60,0)" d="M0,0 L0,10 M4.6,0 L4.6,10 M0,5 L4.6,5"/><path transform="translate(32.85,0)" d="M0,0 L0,10 L3.1,4.2 L6.2,10 L6.2,0"/></g>
<path d="M300,371.4 L197.4,371.4 L175.2,397" fill="none" stroke="#2f9595" stroke-width="1.1"/>
<polygon points="174.6,397.6 178.2,390.2 181.5,393.0" fill="#0e8686"/>
<line x1="137.6" y1="359.6" x2="163" y2="359.6" stroke="#2f9595" stroke-width="1.1"/>
<line x1="135.4" y1="398.2" x2="170" y2="398.8" stroke="#2f9595" stroke-width="1.1"/>
<line x1="170" y1="398.8" x2="258.4" y2="399.2" stroke="#2f9595" stroke-width="1.1"/>
<line x1="140.8" y1="359.6" x2="140.8" y2="398.2" stroke="#2f9595" stroke-width="1.1"/>
<polygon points="140.8,359.6 143.0,368.1 138.7,368.1" fill="#0e8686"/>
<polygon points="140.8,398.2 138.7,389.7 143.0,389.7" fill="#0e8686"/>
<g transform="translate(129.8,377.4) rotate(-90) scale(0.9500,-0.95) translate(0,-5)" fill="none" stroke="#0b0b85" stroke-width="2.35" stroke-linecap="round" stroke-linejoin="round"><path transform="translate(-4.88,0)" d="M0,7.4 L2.2,10 L2.2,0"/><path transform="translate(0.88,0)" d="M0,8 C0,9.3 0.8,10 2,10 C3.2,10 4,9.3 4,8 C4,6.4 3,5.2 0,0 L4,0"/></g>
<line x1="135.4" y1="436.8" x2="161" y2="436.8" stroke="#2f9595" stroke-width="1.1"/>
<line x1="139.2" y1="398.2" x2="139.2" y2="436.8" stroke="#2f9595" stroke-width="1.1"/>
<polygon points="139.2,398.2 141.3,406.7 137.0,406.7" fill="#0e8686"/>
<polygon points="139.2,436.8 137.0,428.3 141.3,428.3" fill="#0e8686"/>
<g transform="translate(128.6,417.8) rotate(-90) scale(0.9500,-0.95) translate(0,-5)" fill="none" stroke="#0b0b85" stroke-width="2.35" stroke-linecap="round" stroke-linejoin="round"><path transform="translate(-4.88,0)" d="M0,7.4 L2.2,10 L2.2,0"/><path transform="translate(0.88,0)" d="M0,8 C0,9.3 0.8,10 2,10 C3.2,10 4,9.3 4,8 C4,6.4 3,5.2 0,0 L4,0"/></g>
<line x1="138" y1="459.8" x2="190" y2="459.8" stroke="#2f9595" stroke-width="1.1"/>
<polygon points="161.7,459.8 153.2,461.9 153.2,457.7" fill="#0e8686"/>
<polygon points="173.7,459.8 182.2,457.7 182.2,461.9" fill="#0e8686"/>
<g transform="translate(145,451.2) scale(0.9500,-0.95) translate(0,-5)" fill="none" stroke="#0b0b85" stroke-width="2.35" stroke-linecap="round" stroke-linejoin="round"><path transform="translate(-2.20,0)" d="M3.2,0 L3.2,10 L0,3 L4.4,3"/></g>
<line x1="223.6" y1="413.8" x2="258.4" y2="413.8" stroke="#2f9595" stroke-width="1.1"/>
<line x1="254.9" y1="384" x2="254.9" y2="455" stroke="#2f9595" stroke-width="1.1"/>
<polygon points="254.9,399.2 252.8,390.7 257.1,390.7" fill="#0e8686"/>
<polygon points="254.9,413.8 257.1,422.3 252.8,422.3" fill="#0e8686"/>
<g transform="translate(243.4,444) rotate(-87) scale(0.9500,-0.95) translate(0,-5)" fill="none" stroke="#0b0b85" stroke-width="2.35" stroke-linecap="round" stroke-linejoin="round"><path transform="translate(-8.15,0)" d="M3.2,0 L3.2,10 L0,3 L4.4,3"/><path transform="translate(-0.20,0)" d="M0.8,0.3 L0,-1.9"/><path transform="translate(4.15,0)" d="M3.5,10 C2.2,9.2 0.9,7.2 0.3,5 C0.1,4.2 0,3.5 0,2.8 C0,1 0.8,0 2,0 C3.2,0 4,1 4,2.9 C4,4.7 3.2,5.7 2,5.7 C1.2,5.7 0.6,5.3 0.2,4.5"/></g>
<path d="M160.4,352 L177.6,346.3 L179,347 L178.5,359.4 L175.2,361.6 L163,361 L160.4,359 Z" fill="#8f8f8f" stroke="#222" stroke-width="1"/>
<path d="M160.6,351.9 L177.6,346.4" stroke="#5a5a9a" stroke-width="0.8"/>
<path d="M162.6,361 L175.4,361.6 L174.6,391.6 L173,394 L164.2,394 L163.2,391.6 Z" fill="#757575" stroke="#222" stroke-width="1"/>
<path d="M164.4,380 L174,380 M164.8,363.4 L164.8,390 M172.8,363.4 L172,390" stroke="#3a3a3a" stroke-width="0.6" fill="none"/>
<rect x="165.6" y="365.6" width="6" height="9.4" rx="2.4" fill="#929292" stroke="#222" stroke-width="0.9"/>
<line x1="163.7" y1="339.8" x2="163.2" y2="360.6" stroke="#2f9595" stroke-width="1.1"/>
<line x1="176.5" y1="340" x2="176" y2="361.8" stroke="#2f9595" stroke-width="1.1"/>
<path d="M164.2,394 L173,394 L170.4,398.6 L166.6,398.6 Z" fill="#cfcfcf" stroke="#222" stroke-width="0.7"/>
<path d="M165.4,401.6 C166,399.4 171,399.4 171.6,401.6 L172.2,404.2 L164.8,404.2 Z" fill="#d8d8d8" stroke="#222" stroke-width="0.7"/>
<path d="M160.2,407.4 C160.2,405.2 161.4,404.2 163.4,404.2 L171.8,404.2 C173.6,404.2 174.2,405.4 174.2,407.2 L174.2,410.8 C174.2,412.4 175,413.1 176.6,413.1 L223,412.4 L223.6,426 L213.2,432.8 L211.2,437.4 L166.4,437.4 C162.4,437.4 160.2,435 160.2,431 Z" fill="#8f8f8f" stroke="#222" stroke-width="1"/>
<line x1="161.7" y1="437.6" x2="161.7" y2="462" stroke="#2f9595" stroke-width="1.1"/>
<line x1="173.7" y1="400.4" x2="173.7" y2="462" stroke="#2f9595" stroke-width="1.1"/>
</g>
<defs>
<linearGradient id="gGroove" x1="0" x2="0" y1="0" y2="1"><stop offset="0" stop-color="#8a5f11"/><stop offset="0.3" stop-color="#b17b17"/><stop offset="0.62" stop-color="#e2a829"/><stop offset="0.85" stop-color="#e0a627"/><stop offset="1" stop-color="#bd881a"/></linearGradient>
<linearGradient id="gGrooveL" x1="0" x2="1" y1="0" y2="0"><stop offset="0" stop-color="#6e4b0e" stop-opacity="0.85"/><stop offset="0.35" stop-color="#6e4b0e" stop-opacity="0"/></linearGradient>
<linearGradient id="gProbe" x1="0" x2="1" y1="0" y2="0"><stop offset="0" stop-color="#8c8c8c"/><stop offset="0.45" stop-color="#9a9a9a"/><stop offset="0.5" stop-color="#c6c6c6"/><stop offset="1" stop-color="#b4b4b4"/></linearGradient>
</defs>
<g id="inset" stroke-linejoin="round">
<rect x="4" y="281" width="97.7" height="181" fill="#fbfbfb"/>
<path d="M32.9,416 L97.1,402 L97.1,441 L32.9,455 C24,452 19.4,444 19.4,435 C19.4,426 24,419 32.9,416 Z" fill="url(#gGroove)"/>
<path d="M50,412.4 L86,404.6 C82,408 76,409.5 70,410.6 Z" fill="#8a6012"/>
<path d="M5.7,395 L32.9,404.9 L32.9,416 C24,419 19.4,426 19.4,435 C19.4,444 24,452 32.9,455 L32.9,462 L5.7,462 Z" fill="#76500f"/>
<path d="M5.7,395 L70,380 L97.1,388.6 L32.9,404.9 Z" fill="#c4921b"/>
<path d="M32.9,404.9 L97.1,388.6 L97.1,402.6 C92,403.5 88,405 85.7,406.4 L32.9,416.2 Z" fill="#dba424"/>
<path d="M32.9,454.6 L84,443.4 C88,441.4 92,440.4 97.1,440 L97.1,462 L32.9,462 Z" fill="#d9a222"/>
<path d="M33.2,454.6 L84,443.4 C88,441.4 92,440.4 97.1,440" fill="none" stroke="#f0c25a" stroke-width="0.6" opacity="0.8"/>
<path d="M33,404.9 L97,388.7" fill="none" stroke="#f0c866" stroke-width="0.6" opacity="0.8"/>
<path d="M43.4,417.2 L50,412.9 L55,416.6 L54.6,435.2 L44.3,430.2 Z" fill="#8e8e8e"/>
<path d="M50,412.9 L101.4,404.9 L101.4,408.4 L55,416.9 Z" fill="#d4d4d4"/>
<path d="M55,416.9 L101.4,408.4 L101.4,425.8 L54.6,435.2 Z" fill="#bdbdbd"/>
<path d="M57,417.6 L101.4,409.6" stroke="#a8a8a8" stroke-width="0.7" fill="none"/>
<path d="M48.8,305.4 L101.6,281.4 L101.6,289.6 L57,309.8 Z" fill="#cecece"/>
<path d="M56.6,310 L101.6,289.4 L101.6,312.6 L63.6,331.6 L62.3,340.6 L63.1,344.5 L62.3,358.8 L57.7,365.8 L54.5,365.3 L52.7,360 L52.7,343.2 L55.3,339.4 Z" fill="#bfbfbf"/>
<path d="M58.4,312.2 L101.6,292.4" stroke="#adadad" stroke-width="0.7" fill="none"/>
<path d="M47.5,308.2 C47.6,306.4 48.2,305.6 49.2,305.6 L56.8,310 L55.3,339.4 L52.7,343.2 L52.7,360 L54.5,365.3 L46,365.3 L42.3,358 L42.9,343.2 L46.2,339.4 Z" fill="#8f8f8f"/>
<path d="M46,365.3 L57.7,365.8 L55.6,376 L50.6,397.2 C50,398.2 48.4,398.2 47.8,397.2 L46.3,376 Z" fill="url(#gProbe)"/>
<path d="M53.2,368 L55.9,368 L55.2,377 L53.2,377 Z" fill="#d6d6d6" stroke="#9a9a9a" stroke-width="0.4"/>
<path d="M46.1,373 L56.3,373.2" stroke="#8c8c8c" stroke-width="0.6"/>
</g>
<defs><clipPath id="isoclip"><rect x="0" y="17.4" width="320" height="221"/></clipPath>
<linearGradient id="gIsoSilver" gradientUnits="userSpaceOnUse" x1="150" y1="118" x2="262" y2="215"><stop offset="0" stop-color="#ececf1"/><stop offset="0.36" stop-color="#e6e6ec"/><stop offset="0.46" stop-color="#b4b4ba"/><stop offset="0.55" stop-color="#eeeef2"/><stop offset="0.7" stop-color="#d0d0d4"/><stop offset="0.82" stop-color="#85858a"/><stop offset="0.92" stop-color="#cfcfd3"/><stop offset="1" stop-color="#efeff2"/></linearGradient>
<linearGradient id="gIsoTop" gradientUnits="userSpaceOnUse" x1="125" y1="130" x2="250" y2="200"><stop offset="0" stop-color="#7b89a1"/><stop offset="0.45" stop-color="#8c9ab1"/><stop offset="0.75" stop-color="#7f8ea6"/><stop offset="1" stop-color="#5f6c84"/></linearGradient>
</defs>
<g id="iso" clip-path="url(#isoclip)" stroke-linejoin="round">
<path d="M24.2,90.6 L60,109 L121,140.6 L119.4,162.8 L60,125 L24.2,104.2 Z" fill="#3b3b3b" stroke="#0b0b12" stroke-width="0.9"/>
<path d="M24.2,84.2 L60,103.3 L122,135.8 L121,140.8 L60,109.2 L24.2,90.8 Z" fill="#b7b7b7" stroke="#0b0b12" stroke-width="0.8"/>
<path d="M24.6,95.8 35.8,100.8 37.8,104.2 35.8,107.5 24.6,102.4 Z" fill="#b2b2b2" stroke="#0b0b12" stroke-width="0.8"/><path d="M24.8,100.6 33.6,104.6" fill="none" stroke="#4a4a4a" stroke-width="0.9"/>
<path d="M43.3,105.8 48.3,106.7 68.3,118.3 70,124.2 66.7,126.7 48.3,116.7 43.3,110 Z" fill="#b2b2b2" stroke="#0b0b12" stroke-width="0.8"/><path d="M48.6,112.6 65.6,122.6" fill="none" stroke="#4a4a4a" stroke-width="0.9"/>
<path d="M75.8,125 80.8,123.3 100,135.8 100,143.3 96.7,145 76.7,131.7 Z" fill="#b2b2b2" stroke="#0b0b12" stroke-width="0.8"/><path d="M80.4,129.6 96.6,140.4" fill="none" stroke="#4a4a4a" stroke-width="0.9"/>
<path d="M105,141.7 110,140 119.4,145.8 119.4,155 116.7,153.3 105.8,148.3 Z" fill="#b2b2b2" stroke="#0b0b12" stroke-width="0.8"/><path d="M109,145.6 118,151.4" fill="none" stroke="#4a4a4a" stroke-width="0.9"/>
<line x1="44.6" y1="109.4" x2="49.4" y2="107.4" stroke="#22226e" stroke-width="0.6"/>
<line x1="77" y1="129" x2="82" y2="126.4" stroke="#22226e" stroke-width="0.6"/>
<line x1="106.4" y1="145.4" x2="111.2" y2="143" stroke="#22226e" stroke-width="0.6"/>
<path d="M49.4,17.2 C52.3,18.2 61.0,21.0 66.8,23.4 C72.6,25.8 79.3,28.4 84.3,31.5 C89.3,34.6 93.4,38.4 97.0,42.2 C100.6,46.0 103.4,49.8 106.0,54.3 C108.6,58.8 110.7,63.3 112.4,69.0 C114.1,74.7 115.0,82.8 116.0,88.6 C117.0,94.4 117.5,99.6 118.4,104.0 C119.3,108.4 119.4,110.8 121.6,115.0 C123.8,119.2 129.8,126.7 131.5,129.0 L147.0,124.0 C146.4,122.8 144.5,119.5 143.4,117.0 C142.3,114.5 141.4,113.4 140.4,108.7 C139.4,104.0 139.2,95.2 137.7,88.6 C136.2,82.0 133.3,74.6 131.6,69.0 C129.8,63.4 128.6,58.4 127.2,55.0 C125.8,51.6 125.2,52.6 123.2,48.9 C121.2,45.2 118.6,38.1 115.2,32.8 C111.8,27.5 105.0,19.8 103.0,17.2 Z" fill="#3c3c3c" stroke="#0b0b12" stroke-width="0.9"/>
<path d="M103.0,17.2 C105.0,19.8 111.8,27.5 115.2,32.8 C118.6,38.1 121.2,45.2 123.2,48.9 C125.2,52.6 125.8,51.6 127.2,55.0 C128.6,58.4 129.8,63.4 131.6,69.0 C133.3,74.6 136.2,82.0 137.7,88.6 C139.2,95.2 139.4,104.0 140.4,108.7 C141.4,113.4 142.3,114.5 143.4,117.0 C144.5,119.5 146.4,122.8 147.0,124.0 L156.0,122.0 C155.2,121.2 152.8,119.7 151.1,117.0 C149.4,114.3 147.1,110.7 145.8,106.0 C144.5,101.3 144.2,94.8 143.1,88.6 C142.0,82.4 141.1,74.6 139.5,69.0 C137.9,63.4 135.1,58.4 133.7,55.0 C132.3,51.6 133.5,53.0 131.3,48.9 C129.1,44.8 124.0,35.4 120.5,30.1 C117.0,24.8 112.2,19.4 110.5,17.2 Z" fill="#b5b5b5" stroke="#0b0b12" stroke-width="0.9"/>
<path d="M74.2,17.4 96.4,17.4 95.6,27.6 93.6,31.4 78.9,23.4 Z" fill="#b4b4b4" stroke="#0b0b12" stroke-width="0.8"/><path d="M80.3,17 96.6,17 95.4,26.6 Z" fill="#fff"/>
<path d="M61,17.4 68,17.4 70,19.6 64.4,19.2 Z" fill="#b4b4b4" stroke="#0b0b12" stroke-width="0.8"/>
<path d="M100.4,25 104.2,26 119,47.2 115,50.4 108.6,51.6 99.6,36.8 98.4,32 Z" fill="#b4b4b4" stroke="#0b0b12" stroke-width="0.8"/><path d="M104.2,27.2 118.4,47.2 115,49.8 112.6,49 102.8,35 Z" fill="#fff"/>
<path d="M112.9,59 124.3,56.3 131.7,79.2 130.3,82.5 120.3,79.8 116.2,75.1 Z" fill="#b4b4b4" stroke="#0b0b12" stroke-width="0.8"/><path d="M120.6,58 124,57 130.8,77.8 125.6,76.9 123,72.4 Z" fill="#fff"/>
<path d="M120.3,85.9 132.3,88.6 135.7,108.7 127,106.7 121.6,102 119.6,89.9 Z" fill="#b4b4b4" stroke="#0b0b12" stroke-width="0.8"/><path d="M126.5,88.2 132.6,90 134.8,105.8 130.3,102.5 127.2,95.3 Z" fill="#fff"/>
<line x1="127.4" y1="58.6" x2="133.6" y2="56.2" stroke="#22226e" stroke-width="0.6"/>
<line x1="137.8" y1="88.8" x2="143" y2="87.4" stroke="#22226e" stroke-width="0.6"/>
<line x1="141.2" y1="110.6" x2="146.4" y2="108.6" stroke="#22226e" stroke-width="0.6"/>
<line x1="115.4" y1="33.2" x2="120.4" y2="30.4" stroke="#22226e" stroke-width="0.6"/>
<path d="M168.0,116.0 C171.7,116.9 184.1,118.8 190.0,121.3 C195.9,123.8 197.8,128.0 203.4,130.7 C209.0,133.4 218.0,135.4 223.6,137.4 C229.2,139.4 233.3,141.1 237.0,142.6 C240.7,144.1 243.1,144.4 246.0,146.5 C248.9,148.6 251.7,153.2 254.6,155.2 C257.5,157.2 259.3,157.3 263.3,158.4 C267.3,159.5 273.7,159.2 278.4,161.6 C283.1,163.9 288.1,168.2 291.4,172.5 C294.7,176.8 296.7,182.9 298.0,187.6 C299.3,192.3 299.4,196.6 299.0,200.6 C298.6,204.6 297.4,208.2 295.8,211.4 C294.2,214.6 291.8,218.0 289.3,220.0 C286.8,222.0 283.5,223.2 280.6,223.6 C277.7,224.0 274.8,222.2 272.0,222.6 C269.2,223.0 266.7,223.1 264.0,226.0 C261.3,228.9 257.3,237.7 256.0,240.0 L200,240 L160,140 Z" fill="#66728e" stroke="#0b0b12" stroke-width="1"/>
<path d="M262.0,166.0 C263.7,166.7 268.7,167.7 272.0,170.0 C275.3,172.3 279.3,175.7 282.0,180.0 C284.7,184.3 287.2,191.0 288.0,196.0 C288.8,201.0 288.3,206.3 287.0,210.0 C285.7,213.7 282.5,216.5 280.0,218.0 C277.5,219.5 273.7,221.2 272.0,219.0 C270.3,216.8 270.7,210.2 270.0,205.0 C269.3,199.8 268.3,190.8 268.0,188.0 Z" fill="#7c8aa3"/>
<path d="M266.0,176.0 C267.3,177.0 271.8,178.7 274.0,182.0 C276.2,185.3 278.5,191.3 279.0,196.0 C279.5,200.7 278.2,207.0 277.0,210.0 C275.8,213.0 272.8,213.3 272.0,214.0" fill="none" stroke="#8e9bb2" stroke-width="2.2" opacity="0.7"/>
<path d="M257.0,156.6 C258.5,157.4 262.6,160.2 266.0,161.6 C269.4,163.0 273.7,162.6 277.4,164.8 C281.1,167.0 285.5,170.8 288.2,174.6 C290.9,178.4 292.5,183.3 293.6,187.6 C294.7,191.9 295.0,196.8 294.6,200.6 C294.2,204.4 293.0,207.5 291.4,210.4 C289.8,213.3 287.2,216.3 285.0,218.0 C282.8,219.7 279.5,220.0 278.4,220.4" fill="none" stroke="#22226e" stroke-width="0.9"/>
<path d="M262.0,163.6 C264.0,164.4 270.4,165.9 274.0,168.4 C277.6,170.9 281.2,174.7 283.6,178.6 C286.0,182.5 287.8,187.8 288.6,192.0 C289.4,196.2 289.3,200.4 288.6,204.0 C287.9,207.6 286.4,211.1 284.6,213.4 C282.8,215.7 279.1,217.2 278.0,218.0" fill="none" stroke="#22226e" stroke-width="0.7"/>
<path d="M254.6,155.2 C255.8,157.0 259.8,161.5 262.0,166.0 C264.2,170.5 266.4,176.3 268.0,182.0 C269.6,187.7 271.2,194.7 271.6,200.0 C272.0,205.3 271.4,210.5 270.6,214.0 C269.8,217.5 267.3,219.8 266.6,221.0" fill="none" stroke="#22226e" stroke-width="0.8"/>
<line x1="278.4" y1="164.8" x2="276" y2="169.6" stroke="#22226e" stroke-width="0.6"/>
<line x1="288.2" y1="174.6" x2="284.4" y2="178.6" stroke="#22226e" stroke-width="0.6"/>
<line x1="293.6" y1="187.6" x2="288.8" y2="190.6" stroke="#22226e" stroke-width="0.6"/>
<line x1="294.6" y1="200.6" x2="289" y2="202.6" stroke="#22226e" stroke-width="0.6"/>
<line x1="291.4" y1="210.4" x2="286.4" y2="210.6" stroke="#22226e" stroke-width="0.6"/>
<path d="M169,117.8 L179.8,119.2 L179.8,128 L170.4,124 Z" fill="#9a9a9a" stroke="#0b0b12" stroke-width="0.7"/>
<path d="M174.4,118.6 L174.8,126" stroke="#555" stroke-width="0.7"/>
<path d="M185.2,135.3 C186.7,136.1 190.8,138.3 194.3,140.0 C197.8,141.7 202.2,144.7 206.4,145.4 C210.7,146.1 215.3,143.3 219.8,144.0 C224.3,144.7 229.1,146.6 233.2,149.4 C237.3,152.2 241.3,156.3 244.6,161.0 C247.9,165.7 250.8,172.1 253.0,177.6 C255.2,183.1 256.8,189.6 258.0,194.0 C259.2,198.4 259.9,200.7 260.4,204.0 C260.9,207.3 261.4,210.0 261.0,214.0 C260.6,218.0 259.5,223.7 258.0,228.0 C256.5,232.3 253.0,238.0 252.0,240.0 L259.0,240.0 C260.3,237.8 264.8,231.5 267.0,227.0 C269.2,222.5 271.2,217.0 272.0,213.0 C272.8,209.0 272.1,206.8 271.6,203.0 C271.1,199.2 270.0,194.2 268.8,190.0 C267.6,185.8 266.7,182.6 264.6,177.6 C262.5,172.6 259.1,165.0 256.0,160.1 C252.9,155.2 250.2,151.3 246.0,148.4 C241.8,145.5 235.8,144.1 230.5,142.7 C225.2,141.3 218.9,141.2 214.4,140.0 C209.9,138.8 207.5,136.8 203.4,135.4 C199.3,134.0 193.2,132.6 190.0,131.4 C186.8,130.2 185.0,128.6 184.0,128.0 Z" fill="#303035" stroke="#0b0b12" stroke-width="0.9"/>
<path d="M196.0,134.6 C198.3,135.4 204.7,138.1 210.0,139.6 C215.3,141.1 222.5,141.8 228.0,143.6 C233.5,145.4 238.8,147.7 243.0,150.6 C247.2,153.5 250.0,156.6 253.0,161.0 C256.0,165.4 258.9,171.3 261.0,177.0 C263.1,182.7 264.5,189.2 265.6,195.0 C266.7,200.8 267.1,209.2 267.4,212.0" fill="none" stroke="#45454d" stroke-width="1.2"/>
<clipPath id="silverclip"><path d="M140.9,123.9 C144.7,125.6 158.1,131.2 163.7,133.9 C169.2,136.6 170.9,137.9 174.2,140.0 C177.5,142.1 180.9,145.0 183.6,146.7 C186.3,148.4 187.6,149.0 190.5,150.0 C193.4,151.0 197.7,152.6 201.0,152.8 C204.3,153.0 207.3,150.9 210.4,151.4 C213.5,151.9 216.5,153.4 219.8,156.0 C223.1,158.6 226.9,162.9 230.0,167.0 C233.1,171.1 236.2,175.8 238.6,180.3 C241.0,184.8 242.9,190.1 244.4,194.0 C245.9,197.9 246.7,200.7 247.4,204.0 C248.1,207.3 248.3,208.0 248.4,214.0 C248.5,220.0 248.1,235.7 248.0,240.0 L252.0,240.0 C253.0,238.0 256.5,232.3 258.0,228.0 C259.5,223.7 260.6,218.0 261.0,214.0 C261.4,210.0 260.9,207.3 260.4,204.0 C259.9,200.7 259.2,198.4 258.0,194.0 C256.8,189.6 255.2,183.1 253.0,177.6 C250.8,172.1 247.9,165.7 244.6,161.0 C241.3,156.3 237.3,152.2 233.2,149.4 C229.1,146.6 224.3,144.7 219.8,144.0 C215.3,143.3 210.7,146.1 206.4,145.4 C202.2,144.7 197.8,141.7 194.3,140.0 C190.8,138.3 188.5,137.4 185.2,135.3 C181.9,133.2 179.8,130.5 174.4,127.2 C169.0,124.0 156.6,117.7 153.0,115.8 Z"/></clipPath>
<path d="M140.9,123.9 C144.7,125.6 158.1,131.2 163.7,133.9 C169.2,136.6 170.9,137.9 174.2,140.0 C177.5,142.1 180.9,145.0 183.6,146.7 C186.3,148.4 187.6,149.0 190.5,150.0 C193.4,151.0 197.7,152.6 201.0,152.8 C204.3,153.0 207.3,150.9 210.4,151.4 C213.5,151.9 216.5,153.4 219.8,156.0 C223.1,158.6 226.9,162.9 230.0,167.0 C233.1,171.1 236.2,175.8 238.6,180.3 C241.0,184.8 242.9,190.1 244.4,194.0 C245.9,197.9 246.7,200.7 247.4,204.0 C248.1,207.3 248.3,208.0 248.4,214.0 C248.5,220.0 248.1,235.7 248.0,240.0 L252.0,240.0 C253.0,238.0 256.5,232.3 258.0,228.0 C259.5,223.7 260.6,218.0 261.0,214.0 C261.4,210.0 260.9,207.3 260.4,204.0 C259.9,200.7 259.2,198.4 258.0,194.0 C256.8,189.6 255.2,183.1 253.0,177.6 C250.8,172.1 247.9,165.7 244.6,161.0 C241.3,156.3 237.3,152.2 233.2,149.4 C229.1,146.6 224.3,144.7 219.8,144.0 C215.3,143.3 210.7,146.1 206.4,145.4 C202.2,144.7 197.8,141.7 194.3,140.0 C190.8,138.3 188.5,137.4 185.2,135.3 C181.9,133.2 179.8,130.5 174.4,127.2 C169.0,124.0 156.6,117.7 153.0,115.8 Z" fill="#ebebf0"/>
<g clip-path="url(#silverclip)">
<path d="M208.0,151.0 C210.2,151.8 217.0,153.2 221.0,156.0 C225.0,158.8 228.7,163.4 232.0,167.6 C235.3,171.8 238.5,176.4 241.0,181.0 C243.5,185.6 245.5,190.8 247.0,195.0 C248.5,199.2 249.3,202.5 250.0,206.0 C250.7,209.5 251.0,210.3 251.0,216.0 C251.0,221.7 250.2,236.0 250.0,240.0" fill="none" stroke="#bcbcc2" stroke-width="9"/>
<path d="M214.0,153.0 C215.5,153.8 219.9,155.1 223.0,157.6 C226.1,160.1 229.6,164.1 232.6,168.0 C235.6,171.9 238.6,176.5 241.0,181.0 C243.4,185.5 245.5,190.8 247.0,195.0 C248.5,199.2 249.3,202.5 250.0,206.0 C250.7,209.5 250.9,210.3 251.0,216.0 C251.1,221.7 250.7,236.0 250.6,240.0" fill="none" stroke="#85858b" stroke-width="5"/>
<path d="M176.0,140.0 C177.7,141.2 182.7,145.2 186.0,147.0 C189.3,148.8 194.3,150.0 196.0,150.6" fill="none" stroke="#c4c4ca" stroke-width="6"/>
</g>
<path d="M140.9,123.9 C144.7,125.6 158.1,131.2 163.7,133.9 C169.2,136.6 170.9,137.9 174.2,140.0 C177.5,142.1 180.9,145.0 183.6,146.7 C186.3,148.4 187.6,149.0 190.5,150.0 C193.4,151.0 197.7,152.6 201.0,152.8 C204.3,153.0 207.3,150.9 210.4,151.4 C213.5,151.9 216.5,153.4 219.8,156.0 C223.1,158.6 226.9,162.9 230.0,167.0 C233.1,171.1 236.2,175.8 238.6,180.3 C241.0,184.8 242.9,190.1 244.4,194.0 C245.9,197.9 246.7,200.7 247.4,204.0 C248.1,207.3 248.3,208.0 248.4,214.0 C248.5,220.0 248.1,235.7 248.0,240.0 L252.0,240.0 C253.0,238.0 256.5,232.3 258.0,228.0 C259.5,223.7 260.6,218.0 261.0,214.0 C261.4,210.0 260.9,207.3 260.4,204.0 C259.9,200.7 259.2,198.4 258.0,194.0 C256.8,189.6 255.2,183.1 253.0,177.6 C250.8,172.1 247.9,165.7 244.6,161.0 C241.3,156.3 237.3,152.2 233.2,149.4 C229.1,146.6 224.3,144.7 219.8,144.0 C215.3,143.3 210.7,146.1 206.4,145.4 C202.2,144.7 197.8,141.7 194.3,140.0 C190.8,138.3 188.5,137.4 185.2,135.3 C181.9,133.2 179.8,130.5 174.4,127.2 C169.0,124.0 156.6,117.7 153.0,115.8 Z" fill="none" stroke="#0b0b12" stroke-width="0.9"/>
<path d="M122.8,133.9 C125.1,134.8 132.3,137.0 136.8,139.3 C141.3,141.7 145.6,145.2 150.0,148.0 C154.4,150.8 158.9,153.8 163.4,156.1 C167.9,158.3 172.3,160.4 176.8,161.5 C181.3,162.6 185.8,161.9 190.3,162.8 C194.8,163.7 199.7,164.8 203.7,166.8 C207.7,168.8 211.0,171.3 214.4,174.9 C217.8,178.5 221.6,183.8 224.0,188.3 C226.4,192.8 227.8,196.7 229.0,202.0 C230.2,207.3 230.7,213.7 231.0,220.0 C231.3,226.3 230.7,236.7 230.6,240.0 L248.0,240.0 C248.1,235.7 248.5,220.0 248.4,214.0 C248.3,208.0 248.1,207.3 247.4,204.0 C246.7,200.7 245.9,197.9 244.4,194.0 C242.9,190.1 241.0,184.8 238.6,180.3 C236.2,175.8 233.1,171.1 230.0,167.0 C226.9,162.9 223.1,158.6 219.8,156.0 C216.5,153.4 213.5,151.9 210.4,151.4 C207.3,150.9 204.3,153.0 201.0,152.8 C197.7,152.6 193.4,151.0 190.5,150.0 C187.6,149.0 186.3,148.4 183.6,146.7 C180.9,145.0 177.5,142.1 174.2,140.0 C170.9,137.9 169.2,136.6 163.7,133.9 C158.1,131.2 144.7,125.6 140.9,123.9 Z" fill="url(#gIsoTop)" stroke="#0b0b12" stroke-width="0.9"/>
<line x1="145.6" y1="144.6" x2="174.4" y2="127.2" stroke="#22226e" stroke-width="0.6"/>
<line x1="157.7" y1="151.6" x2="185.2" y2="135.3" stroke="#22226e" stroke-width="0.6"/>
<line x1="203.7" y1="166.8" x2="219.8" y2="144" stroke="#22226e" stroke-width="0.6"/>
<path d="M131.0,129.0 C133.5,130.1 141.2,133.1 146.0,135.6 C150.8,138.1 155.7,141.4 160.0,144.0 C164.3,146.6 167.7,148.9 172.0,151.0 C176.3,153.1 181.3,155.4 186.0,156.6 C190.7,157.8 195.7,157.3 200.0,158.0 C204.3,158.7 208.2,158.4 212.0,160.6 C215.8,162.8 219.5,166.8 223.0,171.0 C226.5,175.2 230.5,180.8 233.0,186.0 C235.5,191.2 236.8,196.3 238.0,202.0 C239.2,207.7 239.7,217.0 240.0,220.0" fill="none" stroke="#22226e" stroke-width="0.6"/>
<path d="M122.8,133.9 L136.8,139.3 L150,148 L163.4,156.1 C170,159 183,162.8 190.3,162.8 C196,163 200,164.6 203.7,166.8 C214,173 221,183 226,194 C230,204 231.6,218 230.6,240 L193,240 C190,228 187,220 183.3,216.8 L170,210 L150,201.7 L125,188.3 C122.6,186 121.9,183.6 121.7,181.7 L119.2,156.7 C119.6,148 121,140 122.8,133.9 Z" fill="url(#gIsoTop)" stroke="#0b0b12" stroke-width="1.1"/>
<path d="M122.8,133.9 L136.8,139.8 L150,146.6 L162,154.4 L171.6,161.8 L184,164 L200,166 L203,240 L193,240 C190,228 187,220 183.3,216.8 L170,210 L150,201.7 L125,188.3 C122.6,186 121.9,183.6 121.7,181.7 L119.2,156.7 C119.6,148 121,140 122.8,133.9 Z" fill="#4a5361"/>
<path d="M122.8,133.9 L136.8,139.8 L150,146.6 L162,154.4 L171.6,161.8" fill="none" stroke="#0b0b12" stroke-width="1"/>
<path d="M125.4,138 L137,143 L150,150 L161,157.4 L169.6,164 C165.6,172 164.6,182 166,192 L169.6,205.4 L151,198 L127.4,185.6 C125,183.6 124.4,181.6 124.2,179.6 L122,157 C122.4,150 123.6,143.6 125.4,138 Z" fill="#57616f" stroke="#1a1f2b" stroke-width="0.7"/>
<g transform="matrix(0.68,0.36,0,0.933,202.6,207.5)">
<circle r="47.2" fill="#262a48" stroke="#0b0b12" stroke-width="0.9"/>
<circle r="45.4" fill="#5a667e"/>
<circle r="43.6" fill="#14151f"/>
<circle r="38.6" fill="#b1b9a8"/>
<path d="M-27.78,5.90L-30.71,6.53M-28.05,4.44L-31.01,4.91M-28.24,2.97L-31.23,3.28M-28.36,1.49L-31.36,1.64M-28.40,-0.00L-32.60,-0.00M-28.36,-1.49L-31.36,-1.64M-28.24,-2.97L-31.23,-3.28M-28.05,-4.44L-31.01,-4.91M-27.78,-5.90L-30.71,-6.53M-27.43,-7.35L-31.49,-8.44M-27.01,-8.78L-29.86,-9.70M-26.51,-10.18L-29.31,-11.25M-25.94,-11.55L-28.69,-12.77M-25.30,-12.89L-27.98,-14.26M-24.60,-14.20L-28.23,-16.30M-23.82,-15.47L-26.33,-17.10M-22.98,-16.69L-25.40,-18.46M-22.07,-17.87L-24.40,-19.76M-21.11,-19.00L-23.33,-21.01M-20.08,-20.08L-23.05,-23.05M-19.00,-21.11L-21.01,-23.33M-17.87,-22.07L-19.76,-24.40M-16.69,-22.98L-18.46,-25.40M-15.47,-23.82L-17.10,-26.33M-14.20,-24.60L-16.30,-28.23M-12.89,-25.30L-14.26,-27.98M-11.55,-25.94L-12.77,-28.69M-10.18,-26.51L-11.25,-29.31M-8.78,-27.01L-9.70,-29.86M-7.35,-27.43L-8.44,-31.49M-5.90,-27.78L-6.53,-30.71M-4.44,-28.05L-4.91,-31.01M-2.97,-28.24L-3.28,-31.23M-1.49,-28.36L-1.64,-31.36M0.00,-28.40L0.00,-32.60M1.49,-28.36L1.64,-31.36M2.97,-28.24L3.28,-31.23M4.44,-28.05L4.91,-31.01M5.90,-27.78L6.53,-30.71M7.35,-27.43L8.44,-31.49M8.78,-27.01L9.70,-29.86M10.18,-26.51L11.25,-29.31M11.55,-25.94L12.77,-28.69M12.89,-25.30L14.26,-27.98M14.20,-24.60L16.30,-28.23M15.47,-23.82L17.10,-26.33M16.69,-22.98L18.46,-25.40M17.87,-22.07L19.76,-24.40M19.00,-21.11L21.01,-23.33M20.08,-20.08L23.05,-23.05M21.11,-19.00L23.33,-21.01M22.07,-17.87L24.40,-19.76M22.98,-16.69L25.40,-18.46M23.82,-15.47L26.33,-17.10M24.60,-14.20L28.23,-16.30M25.30,-12.89L27.98,-14.26M25.94,-11.55L28.69,-12.77M26.51,-10.18L29.31,-11.25M27.01,-8.78L29.86,-9.70M27.43,-7.35L31.49,-8.44M27.78,-5.90L30.71,-6.53M28.05,-4.44L31.01,-4.91M28.24,-2.97L31.23,-3.28M28.36,-1.49L31.36,-1.64M28.40,0.00L32.60,0.00M28.36,1.49L31.36,1.64M28.24,2.97L31.23,3.28M28.05,4.44L31.01,4.91M27.78,5.90L30.71,6.53" stroke="#4f574c" stroke-width="0.6" fill="none"/>
<line x1="0" y1="-28" x2="0" y2="-8.4" stroke="#1a1a1a" stroke-width="1.2"/>
<path d="M-6.2,1.6 A6.2,6.2 0 0 1 6.2,1.6" fill="none" stroke="#1a1a1a" stroke-width="1.7"/>
<path d="M-4.6,2.4 L4.6,2.4" stroke="#333" stroke-width="0.7"/>
<circle cx="-12.4" cy="5.6" r="1" fill="#333"/>
<rect x="-2.8" y="10.2" width="6.8" height="11.8" fill="none" stroke="#1c1c1c" stroke-width="1.5"/>
<rect x="10" y="10.2" width="6.8" height="11.8" fill="none" stroke="#1c1c1c" stroke-width="1.5"/>
<rect x="20" y="10.2" width="6.8" height="11.8" fill="none" stroke="#1c1c1c" stroke-width="1.5"/>
<rect x="6.2" y="20.6" width="1.6" height="1.8" fill="#1c1c1c"/>
<rect x="-2.8" y="33" width="5.4" height="1.8" fill="#222"/><rect x="5.6" y="33.2" width="1.5" height="1.5" fill="#222"/>
<text x="-4" y="7.8" font-size="3.4" font-family="Liberation Sans, sans-serif" fill="#555d52">0.01 mm</text>
<text x="5" y="31" font-size="3.4" font-family="Liberation Sans, sans-serif" fill="#555d52">2:10</text>
<path d="M3,-33 L6,-33.4 M8,-32.6 L12,-31.8 M14,-30.6 L18,-28.6 M20,-27 L23.6,-23.4 M25,-21.4 L27.6,-17" stroke="#15151a" stroke-width="2.2" stroke-dasharray="2.2 1.1" fill="none"/>
</g>
<g transform="matrix(0.735,0.44,0,0.76,140.6,171.2)">
<circle r="26.8" fill="#1a202b" stroke="#0b0b12" stroke-width="0.8"/>
<path d="M-19.0,-19.0L19.0,19.0M-19.0,19.0L19.0,-19.0" stroke="#57616f" stroke-width="1.8"/>
<circle r="8.3" fill="#1a202b" stroke="#57616f" stroke-width="1.5"/>
<text x="0" y="-15.4" font-size="6.2" font-weight="bold" text-anchor="middle" font-family="Liberation Sans, sans-serif" fill="#aab0b8">MODE</text>
<text x="0" y="20.8" font-size="6.2" font-weight="bold" text-anchor="middle" font-family="Liberation Sans, sans-serif" fill="#aab0b8">DATA</text>
<text x="-16.2" y="2.4" font-size="6.2" font-weight="bold" text-anchor="middle" font-family="Liberation Sans, sans-serif" fill="#aab0b8">TOL</text>
<text x="16" y="2.2" font-size="5.6" font-weight="bold" text-anchor="middle" font-family="Liberation Sans, sans-serif" fill="#aab0b8">&lt;0&gt;</text>
<text x="0" y="-1.4" font-size="5.4" font-weight="bold" text-anchor="middle" font-family="Liberation Sans, sans-serif" fill="#aab0b8">OK</text>
<text x="0" y="4.8" font-size="5.4" font-weight="bold" text-anchor="middle" font-family="Liberation Sans, sans-serif" fill="#aab0b8">SET</text>
<polygon points="0,-26.4 -1.6,-23.4 1.6,-23.4" fill="#aab0b8"/><polygon points="0,26.6 -1.6,23.6 1.6,23.6" fill="#aab0b8"/>
<polygon points="-26,0 -23.2,-1.6 -23.2,1.6" fill="#aab0b8"/><polygon points="26,0 23.2,-1.6 23.2,1.6" fill="#aab0b8"/>
<circle cx="31" cy="22.2" r="4" fill="#1a202b" stroke="#0b0b12" stroke-width="0.7"/>
<circle cx="31" cy="22.2" r="1.5" fill="none" stroke="#aab0b8" stroke-width="0.7"/>
<text x="28.6" y="-25.6" font-size="5.4" text-anchor="middle" font-family="Liberation Serif, serif" fill="#7c8694">Kroeplin</text>
<text x="29" y="-20.6" font-size="3.2" font-weight="bold" text-anchor="middle" font-family="Liberation Sans, sans-serif" fill="#8a94a2">IP 67</text>
</g>
<path d="M242,206.4 L246.4,204.8 L254,211.4 L254,231 L249.6,235.4 L243,231.2 Z" fill="#1c1e34" stroke="#0b0b12" stroke-width="0.9"/>
<path d="M247.6,210.4 L251.6,213.8 L251.6,229.6 L248.6,232 Z" fill="#0c0c12"/>
<path d="M242.4,207.6 L246.6,206.2 L247.4,233.6" fill="none" stroke="#3e4280" stroke-width="0.7"/>
<path d="M155,107.8 L167.7,99.7 L198.6,102.4 L201.3,101.7 L209.3,102.4 C213,103 215,104.6 214.7,105.6 C214.4,107 213.6,107.8 213.4,107.8 L204,112.4 L198.6,110.4 L190.5,117.1 L156.3,115.8 C154.6,114 154.2,112.4 154.3,111.1 Z" fill="#141418" stroke="#08080c" stroke-width="0.9"/>
<path d="M168,100.2 L198.4,102.9 L201.4,102.2 L209,102.9 C211.6,103.4 213.4,104.4 213.6,105.2 L203.6,109.6 L198.4,108 L189,112.4 L156.6,110.6 L156,108.4 Z" fill="#26262b"/>
<path d="M156,108.6 L188.6,110.4 L198.2,105.2 L203.4,104 M188.6,110.4 L190.4,116.6 M178,101.2 L186,105.6" fill="none" stroke="#25256e" stroke-width="0.8"/>
</g>
</svg></div>
</body></html>
